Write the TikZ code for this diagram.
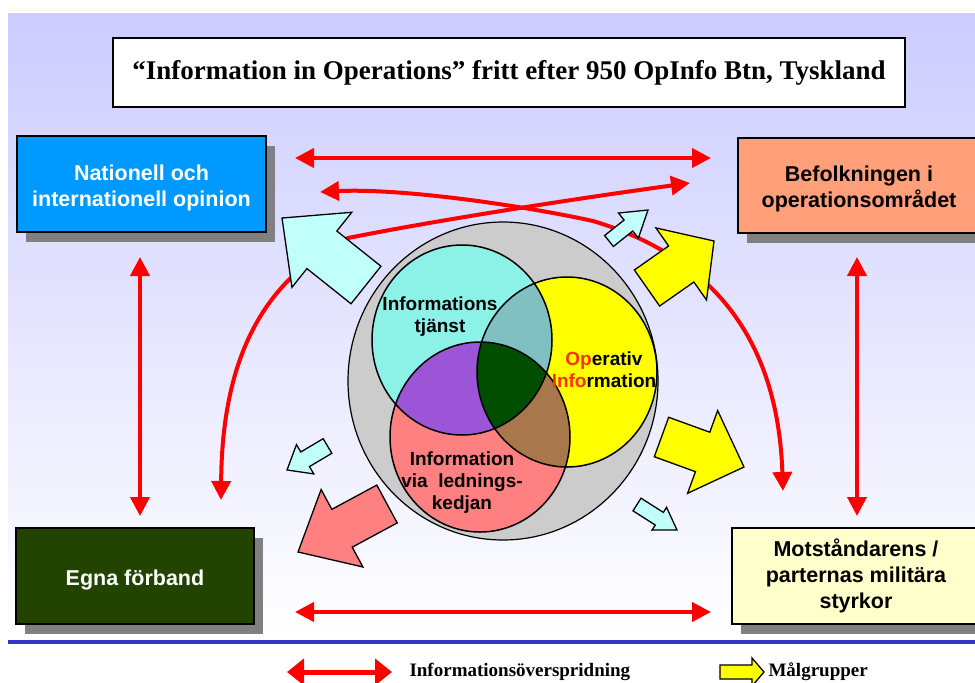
\documentclass[tikz,border=0pt]{standalone}
\usepackage{fontspec}
\setmainfont{Liberation Serif}
\setsansfont{Liberation Sans}
\usetikzlibrary{positioning}
\usetikzlibrary{calc}
\usetikzlibrary{arrows.meta}
\usetikzlibrary{shadows}

\definecolor{bglav}{RGB}{204,204,255}
\definecolor{natblue}{RGB}{0,153,255}
\definecolor{befsalmon}{RGB}{255,160,122}
\definecolor{egnagreen}{RGB}{34,68,0}
\definecolor{motyellow}{RGB}{255,255,204}
\definecolor{boxshadow}{RGB}{128,128,128}
\definecolor{rulerblue}{RGB}{51,51,204}
\definecolor{orbgray}{RGB}{204,204,204}
\definecolor{tjcyan}{RGB}{140,242,232}
\definecolor{opyellow}{RGB}{255,255,0}
\definecolor{ledpink}{RGB}{255,128,128}
\definecolor{mixteal}{RGB}{128,192,192}
\definecolor{mixpurple}{RGB}{155,85,214}
\definecolor{mixbrown}{RGB}{168,120,76}
\definecolor{mixgreen}{RGB}{0,77,0}
\definecolor{targetcyan}{RGB}{192,255,250}
\definecolor{opred}{RGB}{255,51,0}

\tikzset{
    groupbox/.style={draw=black, line width=1.5pt, align=center,
        font=\sffamily\bfseries\fontsize{21.5}{26}\selectfont,
        drop shadow={shadow xshift=9pt, shadow yshift=-10pt, fill=boxshadow, opacity=1}},
    venntext/.style={align=center, font=\sffamily\bfseries\fontsize{19}{22}\selectfont},
    legendtext/.style={font=\bfseries\fontsize{19}{22}\selectfont},
    spread/.style={red, line width=4pt,
        {Triangle[length=19pt,width=19pt]}-{Triangle[length=19pt,width=19pt]}},
    fatarrow/.style={draw=black, line width=1.3pt, line join=miter},
    vennline/.style={draw=black, line width=1.5pt},
}

\begin{document}
\begin{tikzpicture}[x=1pt, y=-1pt]
    \newcommand\vrx{90}
    \newcommand\vry{95}
    \newcommand\lift{\rule{0pt}{23pt}}
    \newcommand\blockarrow[8]{%
        \pgfmathsetmacro\arrang{atan2(#3-#5,#4-#2)}%
        \pgfmathsetmacro\arrlen{veclen(#4-#2,#5-#3)}%
        \pgfmathsetmacro\arrneck{\arrlen-#8}%
        \draw[fatarrow, fill=#1, shift={(#2,#3)}, rotate=\arrang]
            (0,#6) -- (\arrneck,#6) -- (\arrneck,#7) -- (\arrlen,0)
            -- (\arrneck,-#7) -- (\arrneck,-#6) -- (0,-#6) -- cycle;
    }

    \useasboundingbox (0,0) rectangle (975,683);
    \shade[top color=bglav, bottom color=white] (8,13) rectangle (975,640);
    \draw[rulerblue, line width=4pt] (8,642) -- (975,642);

    \node[draw=black, line width=1.5pt, fill=white, minimum width=792pt, minimum height=69pt,
        font=\bfseries\fontsize{27}{30}\selectfont] (title) at (509,72.5)
        {“Information in Operations” fritt efter 950 OpInfo Btn, Tyskland};

    \node[groupbox, fill=natblue, text=white, minimum width=249pt, minimum height=96pt]
        (nat) at (141.5,184) {\lift Nationell och\\internationell opinion};
    \node[groupbox, fill=befsalmon, minimum width=242pt, minimum height=95pt]
        (bef) at (859,185.5) {\lift Befolkningen i\\operationsområdet};
    \node[groupbox, fill=egnagreen, text=white, minimum width=238pt, minimum height=96pt]
        (egna) at (135,576) {\lift Egna förband};
    \node[groupbox, fill=motyellow, minimum width=248pt, minimum height=96pt]
        (mot) at (856,576) {\strut Motståndarens /\\parternas militära\\styrkor};

    \coordinate (topL) at (295,158);
    \coordinate (topR) at (711,158);
    \coordinate (botL) at (295,612);
    \coordinate (botR) at (711,612);
    \coordinate (leftT) at (140,257);
    \coordinate (leftB) at (140,516);
    \coordinate (rightT) at (857,257);
    \coordinate (rightB) at (857,516);

    \draw[spread] (topL) -- (topR);
    \draw[spread] (botL) -- (botR);
    \draw[spread] (leftT) -- (leftB);
    \draw[spread] (rightT) -- (rightB);

    \coordinate (crossA) at (690,183);
    \coordinate (bendA) at (348,238);
    \coordinate (endA) at (221,500);
    \coordinate (crossB) at (320,192);
    \coordinate (bendB) at (593,221);
    \coordinate (endB) at (783,491);

    \draw[spread] (crossA) .. controls (580,198) and (438,220) .. (bendA)
        .. controls (262,280) and (222,360) .. (endA);
    \draw[spread] (crossB) .. controls (400,188) and (520,205) .. (bendB)
        .. controls (740,265) and (779,372) .. (endB);

    \coordinate (orb) at (503,381);
    \coordinate (tj) at (462,340);
    \coordinate (op) at (567,372);
    \coordinate (led) at (480,437);

    \draw[line width=1.2pt, fill=orbgray] (orb) ellipse [x radius=155, y radius=159];

    \fill[tjcyan] (tj) ellipse [x radius=\vrx, y radius=\vry];
    \fill[opyellow] (op) ellipse [x radius=\vrx, y radius=\vry];
    \fill[ledpink] (led) ellipse [x radius=\vrx, y radius=\vry];
    \begin{scope}
        \clip (op) ellipse [x radius=\vrx, y radius=\vry];
        \fill[mixbrown] (led) ellipse [x radius=\vrx, y radius=\vry];
    \end{scope}
    \begin{scope}
        \clip (tj) ellipse [x radius=\vrx, y radius=\vry];
        \fill[mixteal] (op) ellipse [x radius=\vrx, y radius=\vry];
        \fill[mixpurple] (led) ellipse [x radius=\vrx, y radius=\vry];
        \clip (op) ellipse [x radius=\vrx, y radius=\vry];
        \fill[mixgreen] (led) ellipse [x radius=\vrx, y radius=\vry];
    \end{scope}
    \draw[vennline] (tj) ellipse [x radius=\vrx, y radius=\vry];
    \draw[vennline] (op) ellipse [x radius=\vrx, y radius=\vry];
    \draw[vennline] (led) ellipse [x radius=\vrx, y radius=\vry];

    \node[venntext] (tjlabel) at (440,317) {Informations\\tjänst};
    \node[venntext] (oplabel) at (604,370)
        {\textcolor{opred}{Op}erativ\\\textcolor{opred}{Info}rmation};
    \node[venntext] (ledlabel) at (462,483) {Information\\via\ \ lednings-\\kedjan};

    \blockarrow{targetcyan}{366}{285}{282}{218}{24}{48}{51}
    \blockarrow{targetcyan}{609}{241}{648}{210}{7}{16}{25}
    \blockarrow{opyellow}{647}{288}{714}{241}{22}{44}{40}
    \blockarrow{opyellow}{661.5}{437}{744}{467}{21}{44}{44}
    \blockarrow{targetcyan}{637}{504.5}{677}{530}{7.5}{13.5}{21}
    \blockarrow{targetcyan}{327.5}{446}{287}{470}{8.5}{17}{21}
    \blockarrow{ledpink}{387}{504}{298}{552}{21.5}{44}{50}

    \coordinate (legL) at (287,672);
    \coordinate (legR) at (392,672);
    \draw[red, line width=5pt, {Triangle[length=17pt,width=26pt]}-{Triangle[length=17pt,width=26pt]}]
        (legL) -- (legR);
    \node[legendtext, anchor=west] (legspread) at (406,672) {Informationsöverspridning};
    \blockarrow{opyellow}{720}{672}{764}{672}{7}{14}{12}
    \node[legendtext, anchor=west] (leggoal) at (765,672) {Målgrupper};
\end{tikzpicture}
\end{document}
